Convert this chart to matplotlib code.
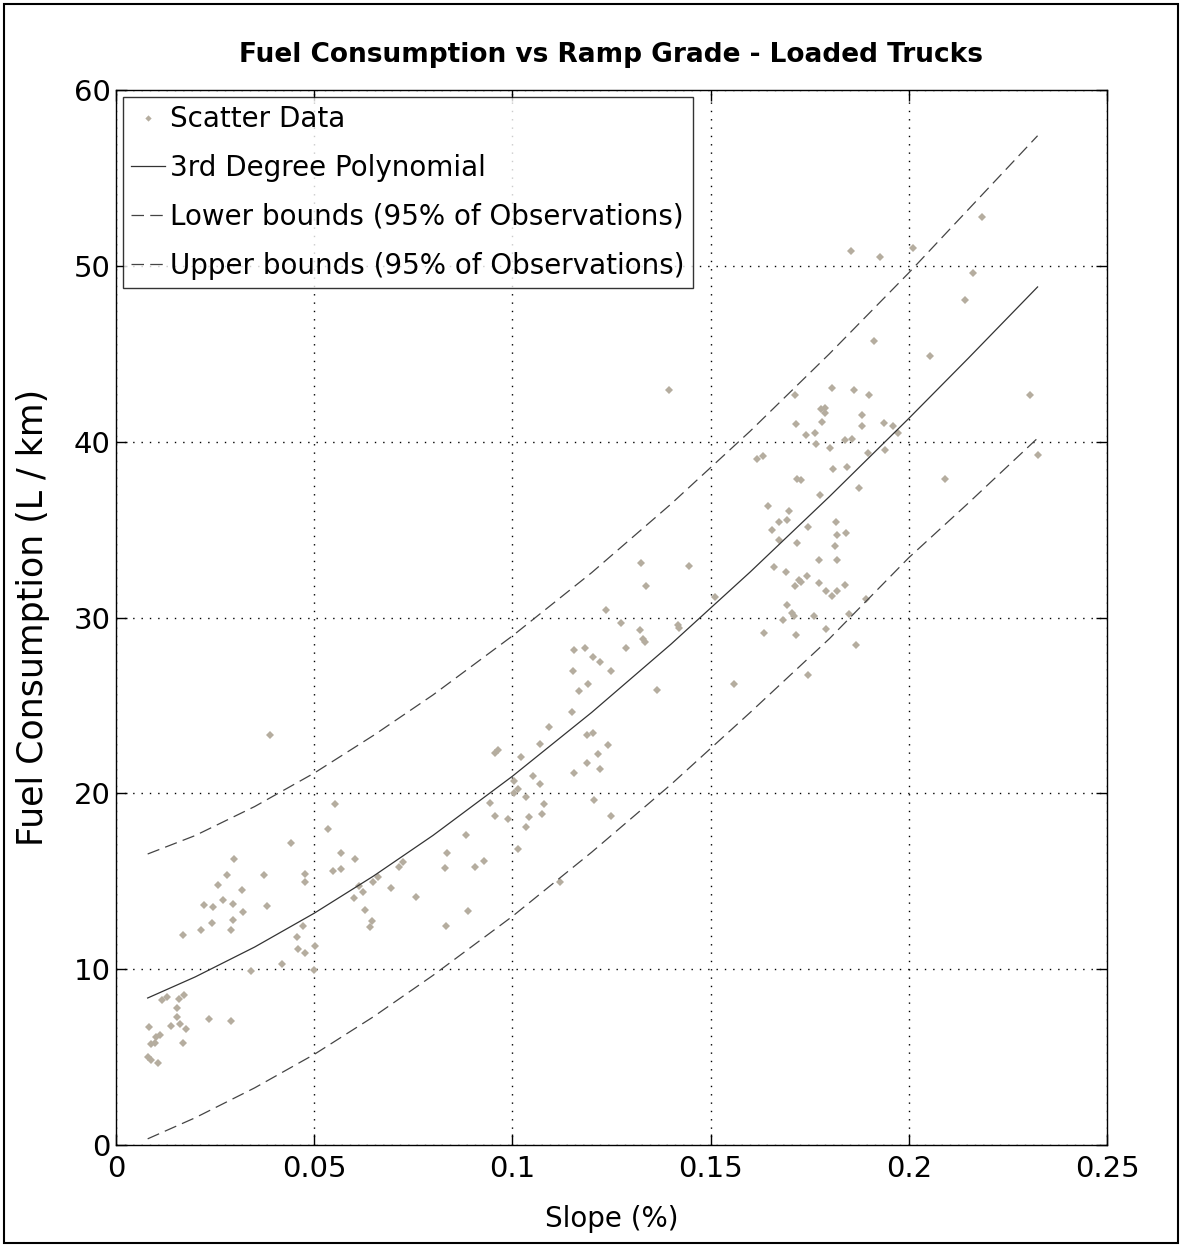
import matplotlib
matplotlib.use("Agg")
import matplotlib.pyplot as plt
from matplotlib.patches import Rectangle

# scatter observations (slope, fuel consumption)
slope = [
    0.0553, 0.0536, 0.0568, 0.0548, 0.0568, 0.0603, 0.0441, 0.0298, 0.0279, 0.0257,
    0.0318, 0.0222, 0.0244, 0.0269, 0.0296, 0.0374, 0.0380, 0.0320, 0.0242, 0.0215,
    0.0289, 0.0296, 0.0168, 0.0476, 0.0476, 0.0456, 0.0472, 0.0458, 0.0477, 0.0502,
    0.0420, 0.0340, 0.0499, 0.0649, 0.0628, 0.0645, 0.0641,
    0.0117, 0.0130, 0.0159, 0.0172, 0.0153, 0.0153, 0.0139, 0.0162, 0.0177, 0.0083,
    0.0110, 0.0100, 0.0088, 0.0098, 0.0170, 0.0082, 0.0088, 0.0105, 0.0235, 0.0289,
    0.0388,
    0.1093, 0.0956, 0.0965, 0.1023, 0.1070, 0.1188, 0.1204, 0.1241, 0.1216, 0.1188,
    0.1222, 0.1156, 0.1051, 0.1070, 0.1005, 0.1013, 0.1004, 0.1035, 0.1080, 0.0943,
    0.0955, 0.0990, 0.1042, 0.1076, 0.1035, 0.1206, 0.1249, 0.1013, 0.0883, 0.0836,
    0.0829, 0.0905, 0.0928, 0.0724, 0.0714, 0.0660, 0.0613, 0.0623, 0.0600, 0.0695,
    0.0756, 0.0889, 0.0832, 0.1121,
    0.1324, 0.1445, 0.1336, 0.1235, 0.1273, 0.1321, 0.1330, 0.1334, 0.1286, 0.1417,
    0.1421, 0.1156, 0.1184, 0.1204, 0.1220, 0.1248, 0.1153, 0.1190, 0.1168, 0.1366,
    0.1150, 0.1394,
    0.1807, 0.1861, 0.1900, 0.1712, 0.1779, 0.1789, 0.1789, 0.1782, 0.1883, 0.1883,
    0.1938, 0.1960, 0.1972, 0.1715, 0.1740, 0.1763, 0.1767, 0.1801, 0.1839, 0.1858,
    0.1896, 0.1940, 0.1618, 0.1633, 0.1810, 0.1845, 0.1718, 0.1728, 0.1874, 0.1776,
    0.1646, 0.1699, 0.1672, 0.1692, 0.1655, 0.1673, 0.1747, 0.1817, 0.1820, 0.1842,
    0.1718, 0.1815, 0.1820, 0.1773, 0.1661, 0.1690, 0.1744, 0.1712, 0.1724, 0.1728,
    0.1773, 0.1791, 0.1806, 0.1820, 0.1840, 0.1892, 0.1511, 0.1692, 0.1706, 0.1711,
    0.1683, 0.1760, 0.1849, 0.1635, 0.1716, 0.1792, 0.1868, 0.1747, 0.1559, 0.2092,
    0.1854, 0.1928, 0.2010, 0.2162, 0.2143, 0.1913, 0.2054, 0.2305, 0.2325, 0.2184,
]
fuel = [
    19.37, 18.00, 16.58, 15.61, 15.67, 16.29, 17.17, 16.29, 15.37, 14.79,
    14.51, 13.66, 13.52, 13.94, 13.73, 15.37, 13.60, 13.24, 12.65, 12.23,
    12.23, 12.80, 11.95, 15.44, 14.95, 11.81, 12.44, 11.17, 10.94, 11.30,
    10.31, 9.87, 9.97, 14.95, 13.39, 12.72, 12.38,
    8.24, 8.43, 8.32, 8.51, 7.79, 7.29, 6.74, 6.88, 6.59, 6.71,
    6.23, 6.17, 5.75, 5.79, 5.81, 4.98, 4.84, 4.65, 7.18, 7.03,
    23.30,
    23.80, 22.32, 22.47, 22.09, 22.79, 23.30, 23.42, 22.74, 22.22, 21.71,
    21.37, 21.16, 20.99, 20.51, 20.70, 20.23, 20.04, 19.79, 19.37, 19.47,
    18.73, 18.52, 18.65, 18.80, 18.10, 19.60, 18.71, 16.81, 17.61, 16.58,
    15.76, 15.82, 16.18, 16.09, 15.82, 15.25, 14.72, 14.40, 14.04, 14.60,
    14.11, 13.33, 12.46, 14.97,
    33.09, 32.93, 31.79, 30.45, 29.67, 29.31, 28.77, 28.58, 28.24, 29.57,
    29.40, 28.17, 28.24, 27.73, 27.45, 26.93, 26.93, 26.23, 25.81, 25.87,
    24.65, 42.92,
    43.08, 42.93, 42.64, 42.64, 41.84, 41.92, 41.63, 41.14, 41.50, 40.91,
    41.06, 40.91, 40.51, 41.01, 40.36, 40.51, 39.89, 39.64, 40.08, 40.13,
    39.35, 39.51, 38.99, 39.20, 38.46, 38.58, 37.85, 37.80, 37.36, 36.94,
    36.35, 36.07, 35.42, 35.57, 35.00, 34.40, 35.16, 35.42, 34.72, 34.80,
    34.21, 34.07, 33.28, 33.28, 32.86, 32.59, 32.35, 31.79, 32.16, 32.00,
    31.95, 31.53, 31.23, 31.53, 31.87, 31.07, 31.15, 30.71, 30.27, 30.09,
    29.86, 30.07, 30.20, 29.14, 29.00, 29.36, 28.45, 26.72, 26.23, 37.87,
    50.86, 50.48, 51.00, 49.57, 48.07, 45.72, 44.86, 42.64, 39.22, 52.78,
]

# fitted curve and prediction bounds, sampled off the chart
fit_x = [0.008, 0.02, 0.035, 0.05, 0.065, 0.08, 0.1, 0.12, 0.14, 0.16, 0.18, 0.2, 0.215, 0.2325]
fit_y = [8.36, 9.56, 11.26, 13.18, 15.30, 17.61, 20.97, 24.60, 28.48, 32.59, 36.88, 41.32, 44.74, 48.8]
lower_y = [0.35, 1.55, 3.25, 5.15, 7.3, 9.65, 13.0, 16.65, 20.5, 24.6, 28.8, 33.4, 36.5, 40.2]
upper_y = [16.55, 17.6, 19.25, 21.15, 23.3, 25.6, 28.95, 32.55, 36.45, 40.6, 45.0, 49.6, 53.2, 57.4]

x_ticks = [0, 0.05, 0.1, 0.15, 0.2, 0.25]
x_tick_labels = ["0", "0.05", "0.1", "0.15", "0.2", "0.25"]
y_ticks = [0, 10, 20, 30, 40, 50, 60]

plt.rcParams["font.family"] = ["DejaVu Sans"]
plt.rcParams["lines.scale_dashes"] = False

fig = plt.figure(figsize=(11.82, 12.47), dpi=100)
ax = fig.add_axes([0.0981, 0.0818, 0.8384, 0.846])

ax.plot(slope, fuel, linestyle="none", marker="D", markersize=4,
        color="#b5ad9f", markeredgewidth=0, label="Scatter Data")
ax.plot(fit_x, fit_y, color="#333333", linewidth=0.9, label="3rd Degree Polynomial")
ax.plot(fit_x, lower_y, color="#444444", linewidth=0.9, dashes=(9, 4.5),
        label="Lower bounds (95% of Observations)")
ax.plot(fit_x, upper_y, color="#444444", linewidth=0.9, dashes=(9, 4.5),
        label="Upper bounds (95% of Observations)")

ax.set_xlim(0, 0.25)
ax.set_ylim(0, 60)
ax.set_xticks(x_ticks)
ax.set_xticklabels(x_tick_labels)
ax.set_yticks(y_ticks)
ax.grid(True, color="black", linestyle=(0, (1, 5)), linewidth=1)
ax.tick_params(direction="in", length=8, width=1, top=True, right=True,
               labelsize=21, pad=7)
ax.tick_params(axis="y", pad=4)
for s in ax.spines.values():
    s.set_linewidth(1)

ax.set_title("Fuel Consumption vs Ramp Grade - Loaded Trucks",
             fontsize=19, fontweight="bold", pad=20)
ax.set_xlabel("Slope (%)", fontsize=20, labelpad=16)
ax.set_ylabel("Fuel Consumption (L / km)", fontsize=25, labelpad=17)

leg = ax.legend(loc="upper left", fontsize=20, frameon=True, fancybox=False,
                edgecolor="black", handlelength=1.2, handletextpad=0.2,
                borderpad=0.3, labelspacing=0.75, borderaxespad=0.25,
                markerscale=0.8)
leg.get_frame().set_linewidth(1)

fig.patches.append(Rectangle((4 / 1182, 4 / 1247), 1 - 8 / 1182, 1 - 8 / 1247,
                             transform=fig.transFigure, fill=False,
                             edgecolor="black", linewidth=1.5))

fig.savefig("out.png", dpi=100, facecolor="white")
